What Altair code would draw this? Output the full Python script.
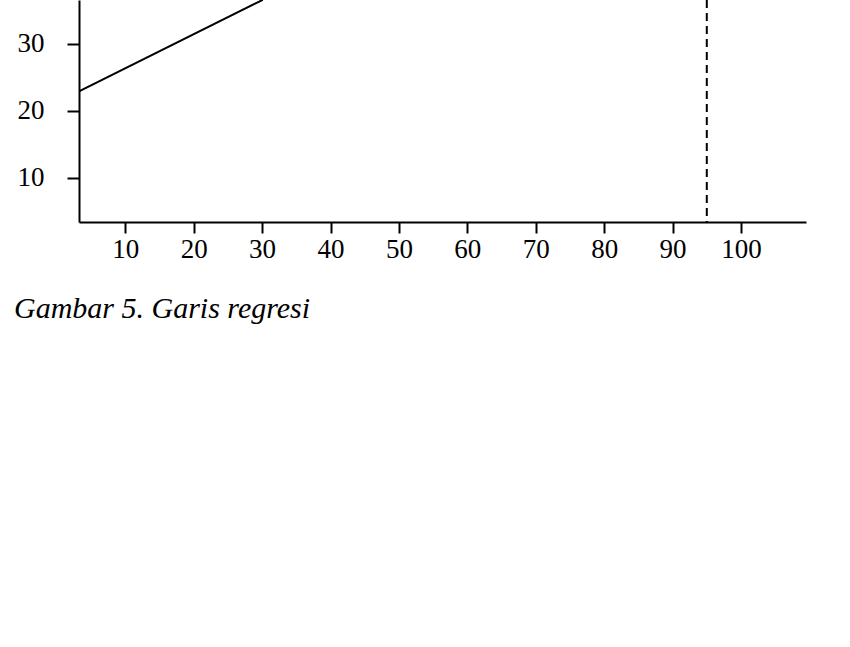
import altair as alt
import pandas as pd

# Regression line endpoints
line_x = [3.24, 30.1]
line_y = [22.9, 36.5]
# Vertical dashed reference
ref_x = [95]
x_ticks = [10, 20, 30, 40, 50, 60, 70, 80, 90, 100]
y_ticks = [10, 20, 30]
caption = "Gambar 5. Garis regresi"

line_df = pd.DataFrame({"x": line_x, "y": line_y})
ref_df = pd.DataFrame({"x": ref_x})

FONT = "Liberation Serif"

xscale = alt.Scale(domain=[3.24, 109.5], nice=False, zero=False)
yscale = alt.Scale(domain=[3.44, 36.48], nice=False, zero=False)

xaxis = alt.Axis(values=x_ticks, title=None, grid=False, domainColor="black",
                 domainWidth=2, tickColor="black", tickWidth=2, tickSize=11,
                 labelPadding=3, labelFont=FONT, labelFontSize=27,
                 labelColor="black", labelFlush=False)
yaxis = alt.Axis(values=y_ticks, title=None, grid=False, domainColor="black",
                 domainWidth=2, tickColor="black", tickWidth=2, tickSize=12,
                 labelPadding=23, labelFont=FONT, labelFontSize=27,
                 labelColor="black", labelFlush=False, labelBaseline="middle")

line = alt.Chart(line_df).mark_line(color="black", strokeWidth=2, clip=True).encode(
    x=alt.X("x:Q", scale=xscale, axis=xaxis),
    y=alt.Y("y:Q", scale=yscale, axis=yaxis),
)

ref = alt.Chart(ref_df).mark_rule(color="black", strokeWidth=2,
                                  strokeDash=[8, 5], clip=True).encode(
    x=alt.X("x:Q", scale=xscale),
)

chart = alt.layer(ref, line).properties(
    width=727, height=222,
    autosize=alt.AutoSizeParams(type="none"),
    padding={"left": 79, "top": 0, "right": 44, "bottom": 425},
    view=alt.ViewBackground(stroke=None, strokeWidth=0),
    title=alt.TitleParams(caption, orient="bottom", anchor="start", frame="bounds",
                          font=FONT, fontSize=30, fontStyle="italic",
                          fontWeight="normal", color="black", offset=32,
                          dx=-3, baseline="top"),
).configure_view(strokeWidth=0, stroke=None).configure(background="white")

chart.save("out.html", embed_options={"renderer": "svg", "actions": False})
